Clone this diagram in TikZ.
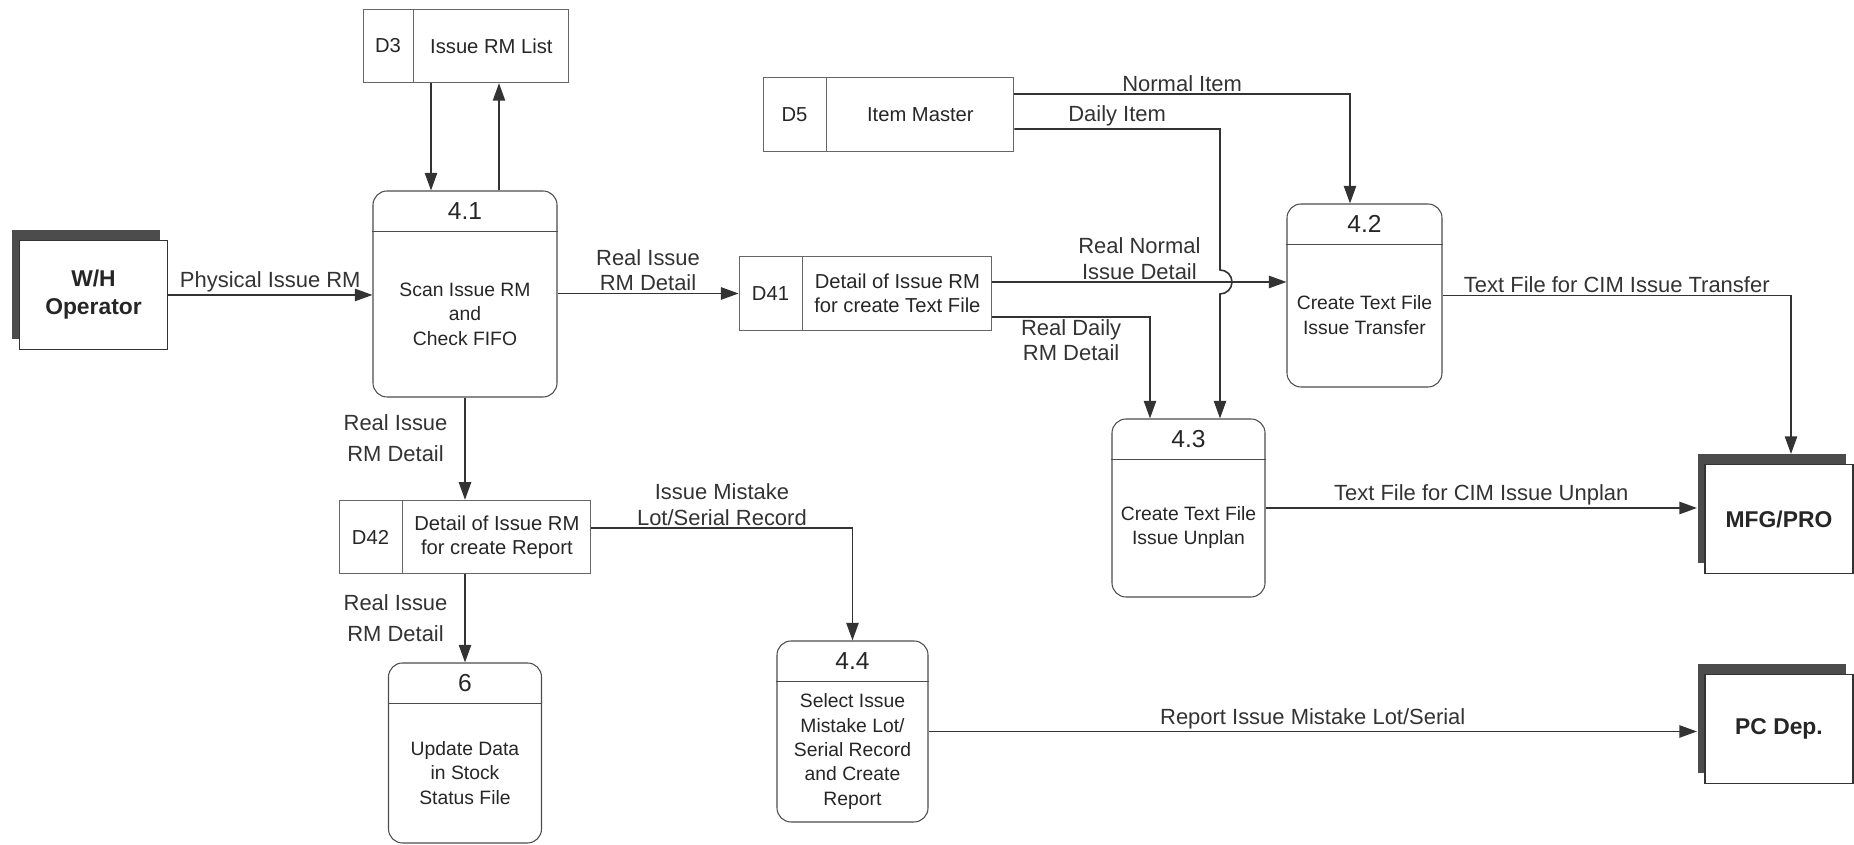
\documentclass[tikz,border=0pt]{standalone}
\usepackage{fontspec}
\setmainfont{Liberation Sans}
\usepackage{tikz}
\usetikzlibrary{positioning,arrows.meta,shadows}
\usepackage{xcolor}

\begin{document}
\begin{tikzpicture}[
      color=black!85,
      ext/.style={draw=black!80,fill=white,line width=0.6pt,minimum width=2.96cm,minimum height=2.18cm,align=center,font=\fontsize{13}{16}\selectfont\bfseries,drop shadow={shadow xshift=-0.15cm,shadow yshift=0.2cm,fill=black!70,opacity=1}},
      proc/.style={draw=black!70,rounded corners=0.28cm,line width=0.6pt},
      pnum/.style={anchor=north,minimum height=0.8cm,inner sep=0pt,font=\fontsize{14}{16}\selectfont},
      ptext/.style={align=center,font=\fontsize{11}{13.9}\selectfont},
      divider/.style={black!70,line width=0.6pt},
      sid/.style={draw=black!60,line width=0.5pt,minimum width=1.26cm,minimum height=1.47cm,align=center,font=\fontsize{11.5}{13.6}\selectfont},
      sname/.style={sid},
      flow/.style={-{Triangle[length=10pt,width=7pt]},black!80,line width=0.9pt},
      lbl/.style={font=\fontsize{12.5}{14.5}\selectfont,align=center,inner sep=1pt}
    ]
      \useasboundingbox (0,0) rectangle (37.08,16.90);

      \node[ext] (wh) at (1.87,11.00) {W/H\\Operator};
      \node[ext] (mfg) at (35.58,6.52) {MFG/PRO};
      \node[ext] (pcd) at (35.58,2.32) {PC Dep.};

      \node[proc,minimum width=3.68cm,minimum height=4.12cm] (p41) at (9.30,11.02) {};
      \node[pnum] (p41n) at (p41.north) {4.1};
      \draw[divider] (p41n.south -| p41.west) -- (p41n.south -| p41.east);
      \node[ptext] at (9.30,10.62) {Scan Issue RM\\and\\Check FIFO};

      \node[proc,minimum width=3.10cm,minimum height=3.66cm] (p42) at (27.29,10.99) {};
      \node[pnum] (p42n) at (p42.north) {4.2};
      \draw[divider] (p42n.south -| p42.west) -- (p42n.south -| p42.east);
      \node[ptext] at (27.29,10.60) {Create Text File\\Issue Transfer};

      \node[proc,minimum width=3.06cm,minimum height=3.56cm] (p43) at (23.77,6.74) {};
      \node[pnum] (p43n) at (p43.north) {4.3};
      \draw[divider] (p43n.south -| p43.west) -- (p43n.south -| p43.east);
      \node[ptext] at (23.77,6.35) {Create Text File\\Issue Unplan};

      \node[proc,minimum width=3.02cm,minimum height=3.62cm] (p44) at (17.05,2.27) {};
      \node[pnum] (p44n) at (p44.north) {4.4};
      \draw[divider] (p44n.south -| p44.west) -- (p44n.south -| p44.east);
      \node[ptext] at (17.05,1.87) {Select Issue\\Mistake Lot/\\Serial Record\\and Create\\Report};

      \node[proc,minimum width=3.06cm,minimum height=3.60cm] (p6) at (9.30,1.84) {};
      \node[pnum] (p6n) at (p6.north) {6};
      \draw[divider] (p6n.south -| p6.west) -- (p6n.south -| p6.east);
      \node[ptext] at (9.30,1.44) {Update Data\\in Stock\\Status File};

      \node[sid,minimum width=1.00cm] (d3id) at (7.76,15.98) {D3};
      \node[sname,minimum width=3.10cm,right=0pt of d3id] (d3) {Issue RM List};
      \node[sid] (d5id) at (15.89,14.61) {D5};
      \node[sname,minimum width=3.74cm,right=0pt of d5id] (d5) {Item Master};
      \node[sid] (d41id) at (15.41,11.03) {D41};
      \node[sname,minimum width=3.78cm,right=0pt of d41id] (d41) {Detail of Issue RM\\for create Text File};
      \node[sid] (d42id) at (7.41,6.16) {D42};
      \node[sname,minimum width=3.76cm,right=0pt of d42id] (d42) {Detail of Issue RM\\for create Report};

      \coordinate (jump) at (24.40,11.26);

      \draw[flow] (wh.east) -- (wh.east -| p41.west) node[midway,above,lbl]{Physical Issue RM};
      \draw[flow] ([xshift=-0.68cm]p41.north |- d3.south) -- ([xshift=-0.68cm]p41.north);
      \draw[flow] ([xshift=0.68cm]p41.north) -- ([xshift=0.68cm]p41.north |- d3.south);
      \draw[flow] (p41.east |- d41id) -- (d41id) node[midway,above,lbl]{Real Issue\\RM Detail};

      \draw[flow] ([yshift=0.41cm]d5.east) -| ([xshift=-0.29cm]p42.north) node[pos=0.25,above,lbl]{Normal Item};
      \draw[flow] ([yshift=-0.29cm]d5.east) -| ([yshift=0.24cm]jump) node[pos=0.25,above,lbl]{Daily Item}
        arc[start angle=90,end angle=-90,radius=0.24cm] -- ([xshift=0.63cm]p43.north);
      \draw[flow] ([yshift=0.23cm]d41.east) -- ([yshift=0.23cm]d41.east -| p42.west) node[midway,above,lbl]{Real Normal\\Issue Detail};
      \draw[flow] ([yshift=-0.47cm]d41.east) -| ([xshift=-0.77cm]p43.north) node[pos=0.25,below,lbl]{Real Daily\\RM Detail};

      \draw[flow] (p42.east) -| ([xshift=0.24cm,yshift=0.2cm]mfg.north) node[pos=0.25,above,lbl]{Text File for CIM Issue Transfer};
      \draw[flow] (p43.east) -- ([xshift=-0.15cm]p43.east -| mfg.west) node[midway,above,lbl]{Text File for CIM Issue Unplan};

      \draw[flow] (p41.south) -- (p41.south |- d42.north) node[pos=0.4,left=0.3cm,lbl]{Real Issue\\[3pt]RM Detail};
      \draw[flow] (d42.south -| p6.north) -- (p6.north) node[midway,left=0.3cm,lbl]{Real Issue\\[3pt]RM Detail};
      \draw[flow] ([yshift=0.18cm]d42.east) -| (p44.north) node[pos=0.25,above,lbl]{Issue Mistake\\Lot/Serial Record};
      \draw[flow] (p44.east) -- ([xshift=-0.15cm]p44.east -| pcd.west) node[midway,above,lbl]{Report Issue Mistake Lot/Serial};
    \end{tikzpicture}
\end{document}
